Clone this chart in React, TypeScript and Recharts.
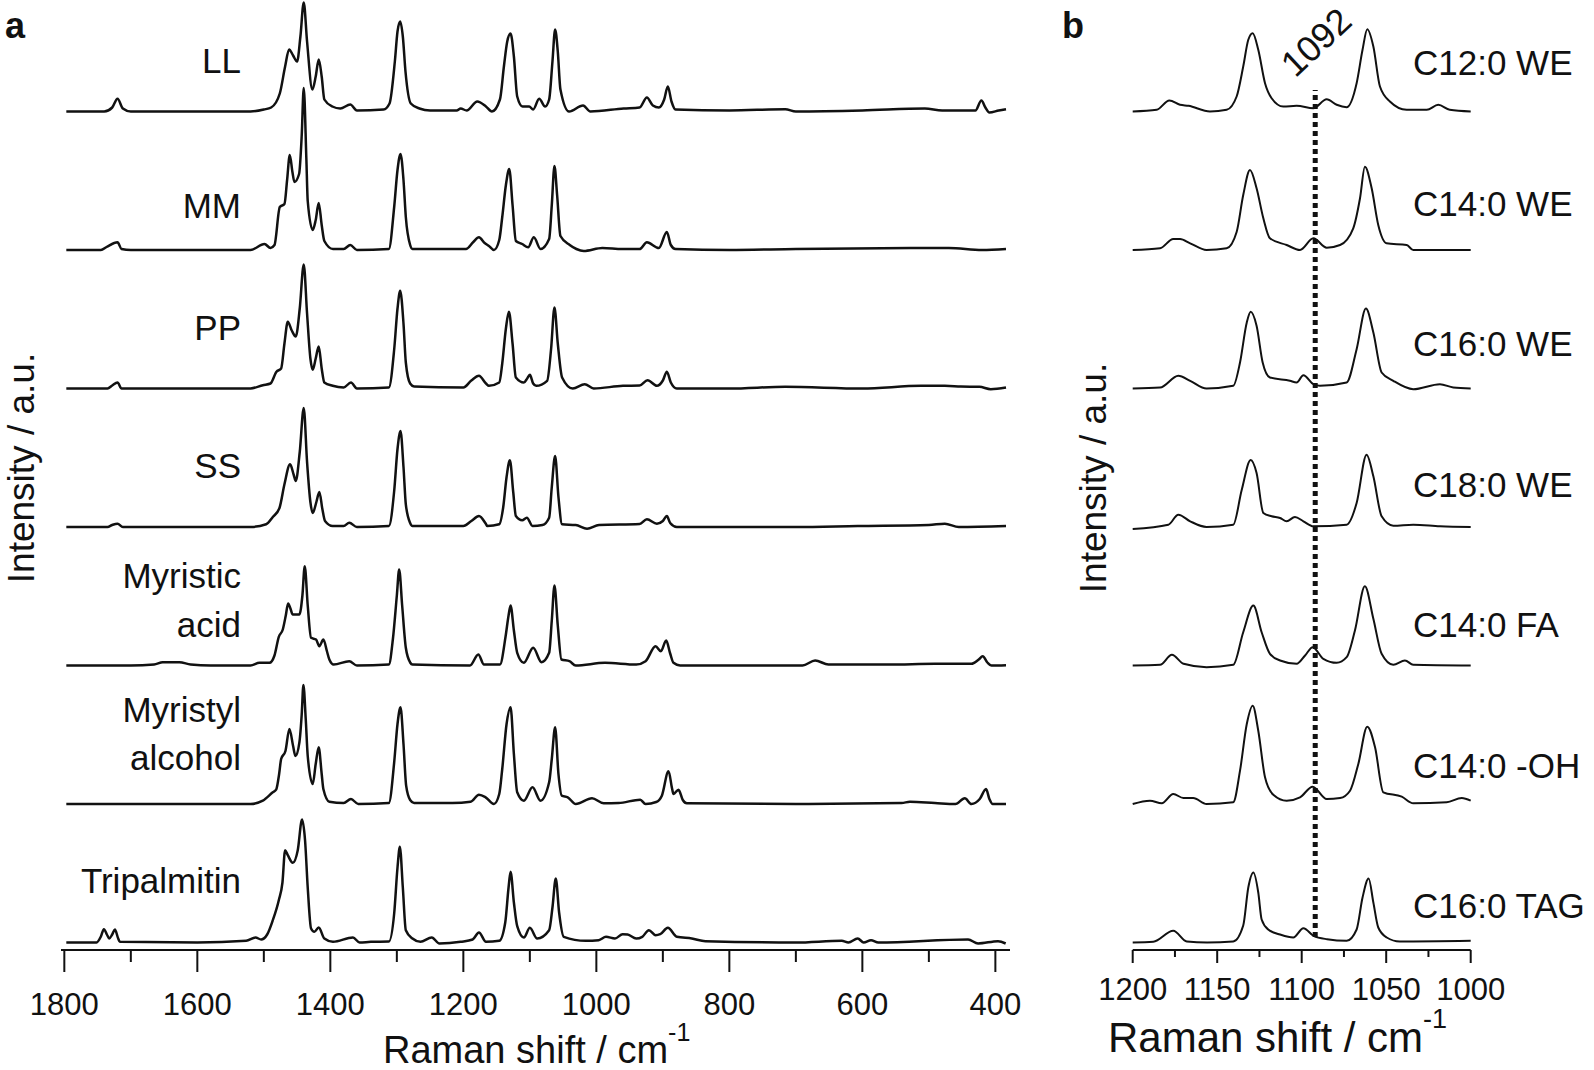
import React from "react"
import { Line, LineChart, ReferenceLine, XAxis, YAxis } from "recharts"

type Pt = [number, number]

const FONT = "'Liberation Sans', Arial, Helvetica, sans-serif"
const INK = "#111"

// panel a: x ticks (cm-1)
const ticksA = [1800, 1700, 1600, 1500, 1400, 1300, 1200, 1100, 1000, 900, 800, 700, 600, 500, 400]
// panel b: x ticks (cm-1)
const ticksB = [1200, 1175, 1150, 1125, 1100, 1075, 1050, 1025, 1000]

const namesA = ["LL", "MM", "PP", "SS", "Myristic acid", "Myristyl alcohol", "Tripalmitin"]
const namesB = ["C12:0 WE", "C14:0 WE", "C16:0 WE", "C18:0 WE", "C14:0 FA", "C14:0 -OH", "C16:0 TAG"]

const markerB = 1092

// spectra, panel a  [wavenumber, intensity a.u.]
const LL: Pt[] = [
  [1797, 0], [1740, 0], [1728, 4], [1720, 12.7], [1712, 3], [1700, 0], [1520, 0], [1500, 2], [1489, 4],
  [1476, 18], [1468, 45], [1462, 62], [1456, 56], [1450, 50], [1445, 75], [1440, 109], [1435, 70],
  [1427, 22], [1422, 35], [1417.5, 52], [1413, 35], [1409, 12], [1397, 5], [1385, 3], [1370, 7],
  [1360, 1], [1320, 2], [1311, 8], [1303, 50], [1299, 80], [1295, 90], [1291, 75], [1287, 40],
  [1279, 8], [1266, 3], [1250, 1], [1210, 1], [1204, 3], [1195, 1], [1179, 10], [1166, 5], [1157, 0],
  [1145, 12], [1139, 45], [1134, 70], [1129, 78], [1124, 55], [1119, 15], [1111, 5], [1101, 5],
  [1095, 2], [1086, 12.7], [1077, 5], [1071, 12], [1066, 50], [1062, 82], [1058, 60], [1054, 22],
  [1041, 0], [1020, 6], [1009, 0], [959, 3], [935, 4], [924, 14], [915, 6], [906, 4], [898, 12],
  [892.5, 25], [887, 10], [881, 2], [800, 1], [716, 2.3], [700, 0], [600, 1], [506, 3], [480, 1],
  [430, 1], [421, 11], [415, 4], [409, -1], [395, 1], [384, 2.3],
]

const MM: Pt[] = [
  [1797, 0], [1745, 0], [1736.5, 3], [1720, 7.7], [1714, 1], [1700, 0], [1520, 0], [1499, 6],
  [1490, 2], [1484, 5], [1476, 43], [1469, 46], [1465, 70], [1461, 95], [1457, 78], [1454, 68],
  [1447, 76], [1443, 115], [1440, 162], [1436, 90], [1434, 49], [1426.5, 20], [1422, 30],
  [1417.5, 47], [1413, 25], [1409, 9], [1396, 1], [1380, 1], [1370, 5], [1360, 0], [1312, 1],
  [1304, 43], [1299, 80], [1294.5, 96], [1290, 70], [1286.5, 33], [1280, 5], [1276.5, 1], [1196, 1],
  [1185, 8], [1176.5, 12.7], [1168, 7], [1161.5, 4], [1154, 0], [1146, 10], [1141.5, 33], [1136, 65],
  [1131, 81], [1126, 45], [1121, 9], [1111.5, 6], [1102.5, 2.7], [1094, 12.7], [1084, 1], [1071, 11],
  [1067, 45], [1063, 84], [1059, 55], [1054, 14], [1040, 5], [1030, 1], [1019, -1], [991, 2], [961, 1],
  [935, 1], [924, 7.7], [906, 2], [894, 18], [888, 5], [881, 1], [800, 0], [700, 1], [510, 2],
  [470, 2], [420, 0], [384, 1],
]

const PP: Pt[] = [
  [1797, 0], [1735, 0], [1728, 3], [1720, 6], [1714, 0], [1700, 0], [1520, 0], [1501.5, 3.3],
  [1490, 5], [1481, 16.7], [1474, 20], [1469, 45], [1464, 66.7], [1458, 58], [1452, 52], [1446, 80],
  [1440, 124], [1435, 75], [1430, 30], [1426.5, 18.7], [1422, 30], [1417.5, 42], [1413, 20],
  [1409, 6], [1396.5, 2.7], [1380, 1], [1369, 6], [1360, 0], [1312, 1], [1304, 39], [1299, 80],
  [1295, 97.7], [1290, 65], [1286.5, 26], [1280, 5], [1274, 2], [1200, 1], [1188, 8], [1176.5, 12.7],
  [1166, 5], [1161.5, 2.7], [1146, 6], [1141.5, 25], [1136, 60], [1131.5, 76.7], [1126, 45],
  [1121, 11], [1109, 6], [1104, 10], [1100, 13.7], [1095, 5], [1090.5, 2.7], [1074, 7.7], [1068, 40],
  [1063, 81], [1058, 45], [1051.5, 11], [1035.5, 0], [1017.5, 4.3], [1004, 0], [960, 2.7], [935, 3],
  [923, 8.3], [909, 2.7], [900, 8], [894, 16.7], [888, 6], [879, 0], [800, 0], [716, 1.7], [600, 0],
  [512, 2.7], [476, 2.7], [452, 2], [424, 1.7], [407, -0.7], [384, 1],
]

const SS: Pt[] = [
  [1797, 0], [1735, 0], [1728, 2], [1720, 3.3], [1712, 0], [1520, 0], [1496.5, 2.7], [1486.5, 10],
  [1476.5, 19], [1469, 42.7], [1460.5, 62.7], [1455, 52], [1452, 46], [1446, 75], [1440, 119],
  [1435, 65], [1430, 25], [1426.5, 14], [1421, 25], [1416.5, 35], [1412, 18], [1408, 6],
  [1396.5, 1], [1380, 1], [1371.5, 4.3], [1360, 0], [1312, 1], [1304, 36], [1299, 78], [1294.5, 96],
  [1290, 60], [1286.5, 22.7], [1280, 4], [1276.5, 1], [1200, 1], [1188, 6], [1176.5, 11], [1166, 3],
  [1164, 1], [1146, 2.7], [1140, 20], [1135, 50], [1130, 66.7], [1125, 35], [1121, 11],
  [1111.5, 6.7], [1104.5, 9.3], [1096, 1], [1081, 2], [1071, 9.3], [1067, 40], [1062, 71], [1057, 30],
  [1051.5, 2.7], [1031, 2], [1014, -1.7], [996, 2], [935, 3], [924, 7.7], [909, 3.3], [900, 6],
  [894, 11], [889, 4], [879, 0], [700, 0], [607, 1], [500, 2], [476, 3.3], [455, 0], [384, 1],
]

const myristicAcid: Pt[] = [
  [1797, 0], [1700, 0], [1665, 1], [1652, 3.3], [1627, 3.3], [1610, 1], [1580, 0], [1520, 0],
  [1506.5, 2.7], [1491.5, 2.7], [1484, 10], [1477.5, 28.7], [1471.5, 36], [1467, 50], [1463.5, 62],
  [1460, 57], [1456.5, 51], [1446.5, 51], [1442, 70], [1438.5, 99.3], [1434, 60], [1429, 27.7],
  [1421.5, 26], [1416.5, 19.3], [1410.5, 26], [1405, 14], [1401.5, 6], [1395, 1], [1371.5, 4.3],
  [1360, 0], [1312, 1], [1306, 26], [1300, 70], [1296.5, 96], [1292, 60], [1286.5, 17.7], [1280, 3],
  [1276.5, 1], [1190, 0], [1177.5, 11], [1169, 1], [1145, 1], [1136.5, 29], [1132, 50], [1129, 60],
  [1124, 35], [1119, 12.7], [1109, 2.7], [1095, 17.7], [1082.5, 3.3], [1071, 12.7], [1067, 45],
  [1063, 80], [1058, 40], [1052.5, 6], [1040.5, 4.3], [1031, 0], [987, 2.7], [940, 1], [926, 4.3],
  [911, 19.3], [903, 14.3], [895, 25], [889, 12], [884, 2.7], [874, 0], [690, 0], [671, 5], [651, 1],
  [560, 1], [491, 1.7], [436, 1.7], [425, 6], [419, 9.3], [412, 3], [406, 0], [384, 0.3],
]

const myristylAlcohol: Pt[] = [
  [1797, 0], [1520, 0], [1501.5, 3.3], [1486.5, 11.7], [1481.5, 14.3], [1477, 30], [1474, 45],
  [1467.5, 53], [1461.5, 75], [1456, 58], [1452.5, 48], [1446.5, 61.7], [1443, 90], [1440.5, 119],
  [1437, 85], [1434, 48], [1426.5, 20], [1422, 40], [1417.5, 56.7], [1413, 30], [1410.5, 15],
  [1401.5, 2.3], [1380, 1], [1369, 5], [1358, 0], [1312, 1], [1304, 41.7], [1299, 80], [1294.5, 96.7],
  [1290, 60], [1286, 18.3], [1280, 4], [1274, 1], [1216.5, 1], [1189, 2.3], [1176.5, 9.3],
  [1166.5, 6.7], [1154, 0], [1146, 10], [1141.5, 35], [1135, 80], [1129, 96.7], [1124, 50],
  [1119, 11.7], [1109, 3.3], [1096, 16.7], [1084, 3.3], [1071, 21.7], [1067, 45], [1062, 76.7],
  [1057, 30], [1052, 8.3], [1043, 6.7], [1031, 0], [1006.5, 5.7], [989, 0.7], [966.5, 1], [934, 4.3],
  [926, 0], [910, 2], [901.5, 8.3], [891.5, 32.7], [886, 15], [884, 10], [876.5, 14.3], [870, 4],
  [864, 0.7], [700, 0], [541, 1], [528.5, 2.3], [491, 1], [460, 0], [446, 5.7], [436, 0], [423.5, 5],
  [414, 15], [409, 5], [404, 0], [384, 0],
]

const tripalmitin: Pt[] = [
  [1797, 0], [1751.5, 0], [1745, 6], [1740.5, 13.3], [1736, 8], [1732.5, 4], [1728, 8], [1724, 13],
  [1719, 4], [1716.5, 0.7], [1600, 0], [1526.5, 1.7], [1512.5, 5], [1504, 3], [1495, 8],
  [1486.5, 22.3], [1477.5, 42.3], [1472, 60], [1468, 92.3], [1464, 87.3], [1456.5, 79.7],
  [1449, 92.3], [1442.5, 123], [1438, 102], [1434, 55], [1429, 14], [1424, 10.7], [1417.5, 15],
  [1409, 4], [1396, 0.7], [1366, 5], [1356, 0], [1339, 0.7], [1312, 1], [1304, 29], [1299, 75],
  [1295.5, 95.7], [1291, 55], [1286.5, 12.3], [1276.5, 4], [1264.5, 0.7], [1247.5, 5], [1236, -1],
  [1204, 0.7], [1186, 3], [1176.5, 10], [1166, 0.7], [1146, 1.7], [1137, 20], [1132, 55],
  [1129, 70.7], [1124, 40], [1119, 16.3], [1109, 5], [1100, 14.7], [1089, 4], [1071, 12.3],
  [1066, 35], [1061, 64], [1056, 30], [1049, 5.7], [1016, 1.7], [996.5, 2.3], [985.5, 5.7], [972, 4],
  [960.5, 8.3], [953, 8], [940, 4], [931, 5.7], [921, 12.3], [911, 7.3], [904, 8.3], [892.5, 14.7],
  [879, 5.7], [856.5, 4], [836, 1.3], [700, 0], [631, 1.7], [621, 0], [607, 4], [598, 0], [587, 2.3],
  [576, 0], [441, 3], [426, -1], [396, 1.3], [384.5, -1],
]

// spectra, panel b
const c12WE: Pt[] = [
  [1200, 0], [1185.8, 1.7], [1178.3, 11], [1172, 6.7], [1167, 5.7], [1154.3, 0], [1144.4, 1.7],
  [1138.5, 15], [1134.6, 45], [1131.6, 71.7], [1129, 78.3], [1125.7, 61.7], [1121.7, 28.3],
  [1117.8, 13.3], [1110.9, 5], [1103, 5.7], [1093.1, 3.3], [1085.2, 12.3], [1079.3, 6.7],
  [1073.4, 4.3], [1067.5, 28.3], [1064, 61.7], [1061.2, 82.3], [1057.6, 65], [1053.7, 25],
  [1047.8, 10], [1037.9, 1.7], [1026, 1.7], [1019.2, 6.7], [1012.4, 1.7], [1000, 0],
]

const c14WE: Pt[] = [
  [1200, 0], [1183.8, 1.7], [1176, 11], [1172, 11], [1166, 6.7], [1156.3, 0], [1144.4, 1.7],
  [1138.5, 18], [1134.6, 55], [1130.6, 80], [1126.7, 61.7], [1122.7, 31.7], [1118.8, 11.7],
  [1108.9, 5], [1101, 0], [1093.1, 11.7], [1085.2, 2.3], [1077.3, 5], [1069.5, 21.7], [1065.5, 51.7],
  [1062.6, 83.3], [1058.6, 61.7], [1054.7, 25], [1049.8, 6.7], [1037.9, 5], [1034, 0], [1000, 0],
]

const c16WE: Pt[] = [
  [1200, 0], [1183.8, 1], [1173, 12.7], [1166, 7.7], [1156.3, 0], [1140.5, 2.7], [1136.5, 26],
  [1132.5, 66], [1130.2, 76.7], [1126.7, 62.7], [1123.1, 26], [1118.8, 11], [1107, 7.7], [1103, 6],
  [1099, 13.3], [1093.1, 4.3], [1089.2, 2.7], [1073.4, 6], [1067.5, 39.3], [1062, 80], [1057.6, 56],
  [1052.7, 16], [1045.8, 7.7], [1034, -0.7], [1018.2, 4.3], [1010.3, 1], [1000, 0],
]

const c18WE: Pt[] = [
  [1200, -2], [1178.9, 2.3], [1173, 12.3], [1166, 5.7], [1156.3, 0], [1140.5, 2.3], [1135.5, 37],
  [1130.2, 67], [1126.7, 54], [1122.7, 14], [1117.8, 10.7], [1112.8, 9], [1108.9, 5.7], [1104, 10],
  [1099, 5.7], [1093.1, 0.7], [1073.4, 2.3], [1067.5, 24], [1061.6, 72.3], [1057.6, 50.7],
  [1052.7, 10.7], [1045.8, 1.3], [1034, 2.3], [1018.2, 0.7], [1000, 0],
]

const c14FA: Pt[] = [
  [1200, 0], [1183.8, 0.7], [1176.8, 10.7], [1169.9, 1.7], [1156.3, -1.7], [1140.5, 0.7],
  [1134.6, 33.3], [1128.6, 60], [1123.7, 33.3], [1118.8, 11.7], [1112.8, 5], [1103, 1.7], [1098, 10],
  [1093.5, 18.3], [1087.2, 6.7], [1079.3, 2.7], [1073.4, 8.3], [1068.5, 35], [1062.6, 79.3],
  [1057.6, 46.7], [1052.7, 11.7], [1045.8, 0.7], [1038.9, 5], [1034, 0.7], [1000, 0],
]

const c14OH: Pt[] = [
  [1200, 0], [1189.8, 3.3], [1182.8, 0.7], [1176, 10], [1170, 6], [1164.2, 6], [1156.3, 0],
  [1140.5, 1.7], [1136.5, 33.3], [1132.5, 80], [1129, 98.3], [1125.7, 73.3], [1121.7, 26.7],
  [1116.8, 9.3], [1108.9, 3.3], [1101, 6.7], [1093.5, 17.3], [1085.2, 5], [1077.3, 6], [1071.4, 13.3],
  [1066.5, 40], [1061.2, 77.3], [1056.6, 56.7], [1051.7, 11.7], [1040.8, 7.3], [1034, 0.7],
  [1014.2, 1.7], [1005.3, 6], [1000, 3.3],
]

const c16TAG: Pt[] = [
  [1200, 0], [1187.8, 0.7], [1176, 11.7], [1168, 1], [1156, 0], [1140.5, 1], [1134.6, 17],
  [1131.6, 55], [1128.6, 70], [1125.7, 50], [1123.7, 23], [1119.8, 13], [1112.8, 8], [1105, 5],
  [1099, 14.3], [1093, 6.7], [1085, 3.3], [1073.4, 1.7], [1067.5, 13], [1064, 45], [1060.4, 64],
  [1057.6, 40], [1054.7, 15], [1049.7, 5], [1042, 1], [1000, 1.7],
]

const spectraA = [LL, MM, PP, SS, myristicAcid, myristylAlcohol, tripalmitin]
const spectraB = [c12WE, c14WE, c16WE, c18WE, c14FA, c14OH, c16TAG]

// vertical stacking (plot units)
const STEP = 138.5
const BASE = 7.5
const stack = (pts: Pt[], i: number, n: number) =>
  pts.map(([x, y]) => ({ x, y: y + BASE + (n - 1 - i) * STEP }))

function TickA(props: any) {
  const { x, y, payload } = props
  const major = payload.value % 200 === 0
  return (
    <g>
      <line x1={x} x2={x} y1={y} y2={y + (major ? 22 : 12)} stroke={INK} strokeWidth={2} />
      {major && (
        <text x={x} y={y + 65} textAnchor="middle" fontSize={31} fontFamily={FONT} fill={INK}>
          {payload.value}
        </text>
      )}
    </g>
  )
}

function TickB(props: any) {
  const { x, y, payload } = props
  const major = payload.value % 50 === 0
  return (
    <g>
      <line x1={x} x2={x} y1={y} y2={y + (major ? 13 : 7)} stroke={INK} strokeWidth={2} />
      {major && (
        <text x={x} y={y + 50} textAnchor="middle" fontSize={31} fontFamily={FONT} fill={INK}>
          {payload.value}
        </text>
      )}
    </g>
  )
}

const txt = { fontFamily: FONT, fill: INK } as const

export default function App() {
  return (
    <div style={{ position: "absolute", left: 0, top: 0, width: 1594, height: 1070, background: "#fff" }}>
      <div style={{ position: "absolute", left: 0, top: 0 }}>
        <LineChart width={1040} height={1070} margin={{ top: 0, right: 30, bottom: 0, left: 61 }}>
          <XAxis
            type="number"
            dataKey="x"
            domain={[378, 1805]}
            reversed
            ticks={ticksA}
            interval={0}
            tick={<TickA />}
            tickLine={false}
            tickSize={0}
            tickMargin={0}
            axisLine={{ stroke: INK, strokeWidth: 2 }}
            height={120}
          />
          <YAxis type="number" domain={[0, 950]} hide width={0} />
          {spectraA.map((s, i) => (
            <Line
              key={namesA[i]}
              name={namesA[i]}
              data={stack(s, i, spectraA.length)}
              dataKey="y"
              type="monotone"
              dot={false}
              stroke={INK}
              strokeWidth={2.5}
              isAnimationActive={false}
            />
          ))}
        </LineChart>
      </div>

      <div style={{ position: "absolute", left: 1040, top: 0 }}>
        <LineChart width={554} height={1070} margin={{ top: 0, right: 123.3, bottom: 0, left: 92.7 }}>
          <XAxis
            type="number"
            dataKey="x"
            domain={[1000, 1200]}
            reversed
            ticks={ticksB}
            interval={0}
            tick={<TickB />}
            tickLine={false}
            tickSize={0}
            tickMargin={0}
            axisLine={{ stroke: INK, strokeWidth: 2 }}
            height={120}
          />
          <YAxis type="number" domain={[0, 950]} hide width={0} />
          <ReferenceLine
            segment={[{ x: markerB, y: 13 }, { x: markerB, y: 860 }]}
            stroke={INK}
            strokeWidth={5}
            strokeDasharray="5 4"
          />
          {spectraB.map((s, i) => (
            <Line
              key={namesB[i]}
              name={namesB[i]}
              data={stack(s, i, spectraB.length)}
              dataKey="y"
              type="monotone"
              dot={false}
              stroke={INK}
              strokeWidth={2}
              isAnimationActive={false}
            />
          ))}
        </LineChart>
      </div>

      <svg width={1594} height={1070} style={{ position: "absolute", left: 0, top: 0, pointerEvents: "none" }}>
        <text x={5} y={38} fontSize={36} fontWeight="bold" {...txt}>a</text>
        <text x={1062} y={38} fontSize={36} fontWeight="bold" {...txt}>b</text>

        {/* panel a sample names */}
        <g fontSize={35} textAnchor="end" {...txt}>
          <text x={241} y={73}>LL</text>
          <text x={241} y={218}>MM</text>
          <text x={241} y={340}>PP</text>
          <text x={241} y={478}>SS</text>
          <text x={241} y={588}>Myristic</text>
          <text x={241} y={637}>acid</text>
          <text x={241} y={722}>Myristyl</text>
          <text x={241} y={770}>alcohol</text>
          <text x={241} y={893}>Tripalmitin</text>
        </g>

        {/* panel b sample names */}
        <g fontSize={35} textAnchor="start" {...txt}>
          {namesB.map((n, i) => (
            <text key={n} x={1413} y={75 + i * 140.5}>{n}</text>
          ))}
        </g>

        <text
          x={1316}
          y={42}
          fontSize={36}
          textAnchor="middle"
          dominantBaseline="central"
          transform="rotate(-43 1316 42)"
          {...txt}
        >
          {markerB}
        </text>

        {/* axis titles */}
        <text x={383} y={1063} fontSize={38} {...txt}>
          Raman shift / cm<tspan fontSize={25} dy={-22}>-1</tspan>
        </text>
        <text x={1108} y={1052} fontSize={42} {...txt}>
          Raman shift / cm<tspan fontSize={27} dy={-24}>-1</tspan>
        </text>
        <text
          x={21}
          y={468}
          fontSize={37}
          textAnchor="middle"
          dominantBaseline="central"
          transform="rotate(-90 21 468)"
          {...txt}
        >
          Intensity / a.u.
        </text>
        <text
          x={1093}
          y={478}
          fontSize={37}
          textAnchor="middle"
          dominantBaseline="central"
          transform="rotate(-90 1093 478)"
          {...txt}
        >
          Intensity / a.u.
        </text>
      </svg>
    </div>
  )
}
